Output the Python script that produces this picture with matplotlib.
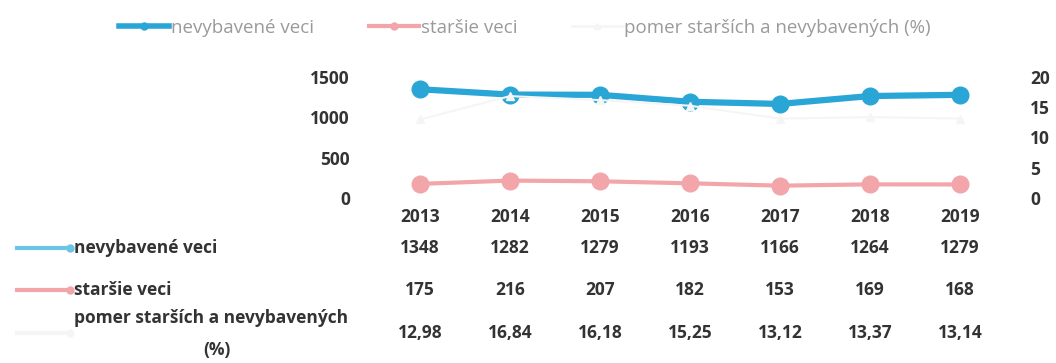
import matplotlib.pyplot as plt
from matplotlib.lines import Line2D
from matplotlib.transforms import blended_transform_factory

plt.rcParams['font.family'] = ['Open Sans', 'DejaVu Sans']

roky = [2013, 2014, 2015, 2016, 2017, 2018, 2019]
nevybavene = [1348, 1282, 1279, 1193, 1166, 1264, 1279]
starsie = [175, 216, 207, 182, 153, 169, 168]
pomer = [12.98, 16.84, 16.18, 15.25, 13.12, 13.37, 13.14]

nazvy = ["nevybavené veci", "staršie veci", "pomer starších a nevybavených (%)"]

modra = "#2aa6d6"
ruzova = "#f3a6aa"
svetla = "#f5f5f5"
text_c = "#333333"
FS = 12.5

fig = plt.figure(figsize=(10.56, 3.63), dpi=100)
ax = fig.add_axes([375 / 1056, 1 - 198 / 363, 630 / 1056, 121 / 363])
ax2 = ax.twinx()

ax.plot(roky, nevybavene, color=modra, lw=4.5, marker="o", ms=12, zorder=3)
ax.plot(roky, starsie, color=ruzova, lw=3, marker="o", ms=12, zorder=3)
ax2.plot(roky, pomer, color=svetla, lw=1.5, marker="^", ms=6, zorder=1)

ax.set_xlim(2012.5, 2019.5)
ax.set_ylim(0, 1500)
ax2.set_ylim(0, 20)
ax.set_yticks([0, 500, 1000, 1500])
ax2.set_yticks([0, 5, 10, 15, 20])
ax.set_xticks(roky)
ax.set_xticklabels([str(r) for r in roky])

for a in (ax, ax2):
    for s in a.spines.values():
        s.set_visible(False)
    a.tick_params(length=0, labelsize=FS, labelcolor=text_c)
    for lab in a.get_xticklabels() + a.get_yticklabels():
        lab.set_fontweight("bold")
ax.tick_params(axis="y", pad=18)
ax2.tick_params(axis="y", pad=18)
ax.tick_params(axis="x", pad=7)

# tabulka s hodnotami pod grafom
tr = blended_transform_factory(ax.transData, fig.transFigure)
riadky_y = [1 - 248 / 363, 1 - 290 / 363, 1 - 333 / 363]
hodnoty = [
    [str(v) for v in nevybavene],
    [str(v) for v in starsie],
    [f"{v:.2f}".replace(".", ",") for v in pomer],
]
for y, rad in zip(riadky_y, hodnoty):
    for r, t in zip(roky, rad):
        fig.text(r, y, t, transform=tr, ha="center", va="center",
                 fontsize=FS, fontweight="bold", color=text_c)

fig.text(74 / 1056, riadky_y[0], nazvy[0], ha="left", va="center",
         fontsize=FS, fontweight="bold", color=text_c)
fig.text(74 / 1056, riadky_y[1], nazvy[1], ha="left", va="center",
         fontsize=FS, fontweight="bold", color=text_c)
fig.text(74 / 1056, 1 - 318 / 363, "pomer starších a nevybavených", ha="left",
         va="center", fontsize=FS, fontweight="bold", color=text_c)
fig.text(217 / 1056, 1 - 350 / 363, "(%)", ha="center", va="center",
         fontsize=FS, fontweight="bold", color=text_c)

# legendove kluce v tabulke
for y, c in zip(riadky_y, ["#6cc4e6", ruzova, svetla]):
    fig.add_artist(Line2D([17 / 1056, 70 / 1056], [y, y], color=c, lw=3,
                          marker="o", ms=5, markevery=[1], transform=fig.transFigure))

# legenda hore
h = [Line2D([], [], color=modra, lw=4, marker="o", ms=5),
     Line2D([], [], color=ruzova, lw=3, marker="o", ms=5),
     Line2D([], [], color=svetla, lw=2, marker="^", ms=5)]
fig.legend(h, nazvy, loc="center", bbox_to_anchor=(0.497, 1 - 28 / 363), ncol=3,
           frameon=False, fontsize=13.5, labelcolor="#9a9a9a", handlelength=2.7,
           handletextpad=0.1, columnspacing=2.9)

fig.savefig("out.png", dpi=100)
